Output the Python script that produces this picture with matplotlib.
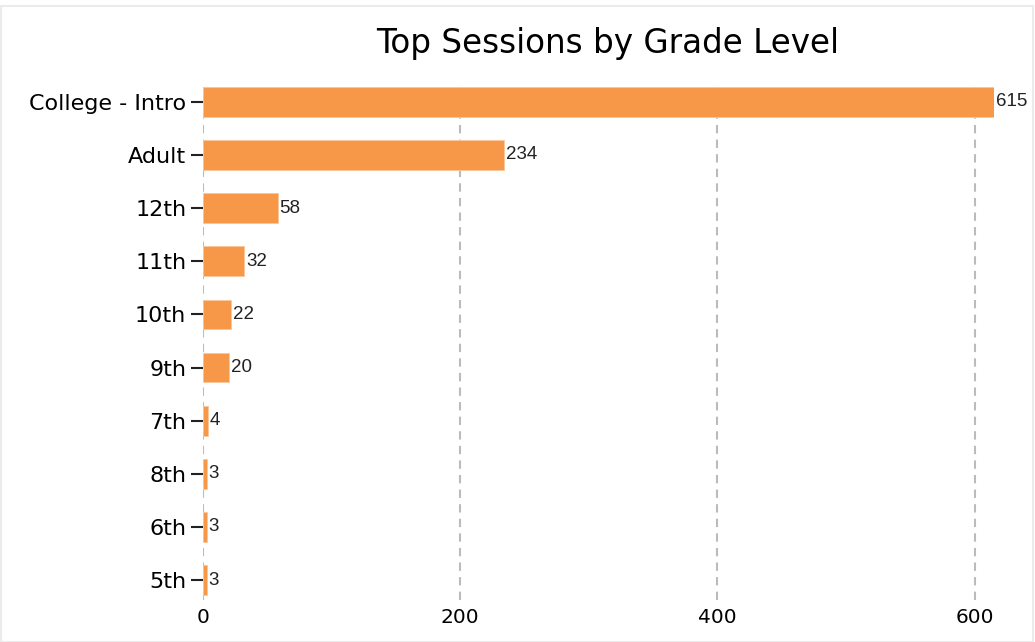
import matplotlib
matplotlib.use('Agg')
from matplotlib import pyplot as plt
from matplotlib.patches import Rectangle

grades = ['College - Intro', 'Adult', '12th', '11th', '10th', '9th', '7th', '8th', '6th', '5th']
sessions = [615, 234, 58, 32, 22, 20, 4, 3, 3, 3]
xticks = [0, 200, 400, 600]

bar_color = '#f79848'

fig = plt.figure(figsize=(10.35, 6.42), dpi=100)
# light frame around the chart
fig.patches.append(Rectangle((0.001, 0.0), 0.997, 0.991, transform=fig.transFigure,
                             fill=False, edgecolor='#ebebeb', linewidth=1.5))

ax = fig.add_axes([0.1961, 0.0654, 0.7643, 0.7991])
pos = list(range(len(grades)))
ax.barh(pos, sessions, height=0.56, color=bar_color, edgecolor='#fbc79c',
        linewidth=0.6, zorder=3)

for y, v in zip(pos, sessions):
    ax.text(v + 1.5, y, str(v), va='center', ha='left', fontsize=13.5,
            family='Liberation Sans', color='#222222', zorder=4)

ax.set_xlim(0, 615)
ax.set_ylim(len(grades) - 1 + 0.376, -0.28)
ax.set_yticks(pos)
ax.set_yticklabels(grades, fontsize=16)
ax.set_xticks(xticks)
ax.set_xticklabels([str(t) for t in xticks], fontsize=14.5)
ax.tick_params(axis='y', length=9, width=1.5, color='#222222', pad=3)
ax.tick_params(axis='x', length=0, pad=6)

ax.grid(axis='x', linestyle=(0, (4, 3)), color='#bbbbbb', linewidth=1.5, zorder=0)
for s in ax.spines.values():
    s.set_visible(False)

fig.text(0.587, 0.932, 'Top Sessions by Grade Level', ha='center', va='center', fontsize=23.5)

plt.savefig('out.png', dpi=100)
